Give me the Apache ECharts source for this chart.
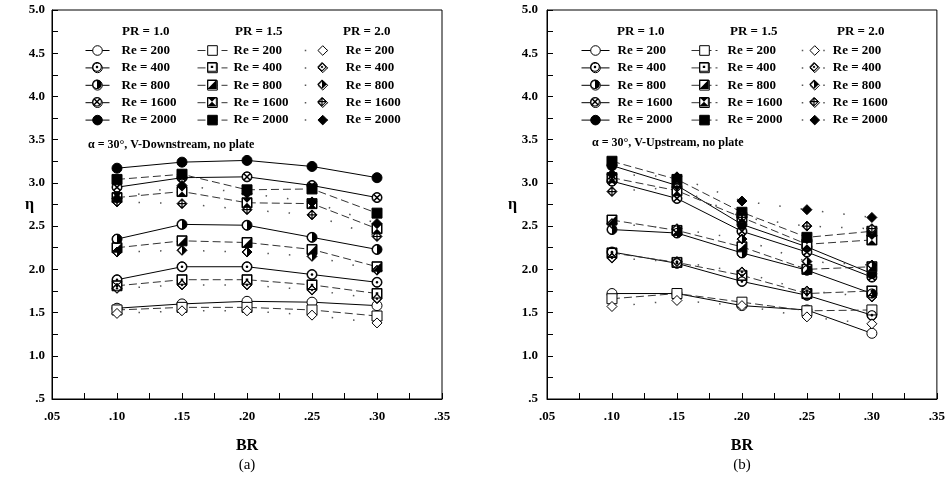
<!DOCTYPE html>
<html>
<head>
<meta charset="utf-8">
<script src="https://cdn.jsdelivr.net/npm/echarts@6/dist/echarts.min.js"></script>
<style>
  html, body { margin: 0; padding: 0; background: #fff; }
  #chart { width: 948px; height: 478px; }
</style>
</head>
<body>
<div id="chart"></div>
<script>
// blockage ratio on x, efficiency index eta on y
const brValues = [0.10, 0.15, 0.20, 0.25, 0.30];
const reList = [200, 400, 800, 1600, 2000];
const prLabels = ['PR = 1.0', 'PR = 1.5', 'PR = 2.0'];
const xTicks = [0.05, 0.35, 0.05];   // min, max, step
const yTicks = [0.5, 5.0, 0.5];

// (a) V-Downstream - rows are Re 200, 400, 800, 1600, 2000
const downPR10 = [
  [1.55, 1.60, 1.63, 1.62, 1.58],
  [1.88, 2.03, 2.03, 1.94, 1.85],
  [2.35, 2.52, 2.51, 2.37, 2.23],
  [2.95, 3.06, 3.07, 2.97, 2.83],
  [3.17, 3.24, 3.26, 3.19, 3.06]
];
const downPR15 = [
  [1.53, 1.56, 1.56, 1.53, 1.46],
  [1.81, 1.88, 1.88, 1.82, 1.72],
  [2.25, 2.33, 2.31, 2.23, 2.03],
  [2.83, 2.90, 2.77, 2.76, 2.47],
  [3.04, 3.10, 2.92, 2.93, 2.65]
];
const downPR20 = [
  [1.49, 1.52, 1.52, 1.47, 1.38],
  [1.78, 1.82, 1.82, 1.76, 1.66],
  [2.20, 2.22, 2.20, 2.15, 1.99],
  [2.78, 2.76, 2.69, 2.63, 2.38],
  [2.82, 2.97, 2.88, 2.78, 2.53]
];

// (b) V-Upstream
const upPR10 = [
  [1.72, 1.72, 1.58, 1.53, 1.26],
  [2.20, 2.07, 1.86, 1.70, 1.47],
  [2.46, 2.42, 2.19, 1.99, 1.72],
  [3.02, 2.82, 2.44, 2.20, 1.91],
  [3.20, 2.97, 2.52, 2.26, 1.95]
];
const upPR15 = [
  [1.66, 1.72, 1.62, 1.52, 1.53],
  [2.19, 2.08, 1.93, 1.72, 1.75],
  [2.57, 2.45, 2.26, 2.00, 2.03],
  [3.06, 2.91, 2.60, 2.29, 2.34],
  [3.25, 3.04, 2.66, 2.37, 2.44]
];
const upPR20 = [
  [1.57, 1.64, 1.58, 1.45, 1.37],
  [2.13, 2.09, 1.97, 1.75, 1.68],
  [2.53, 2.47, 2.35, 2.09, 2.05],
  [2.90, 2.95, 2.60, 2.50, 2.47],
  [3.10, 3.07, 2.79, 2.69, 2.60]
];

const SERIF = '"Liberation Serif", "DejaVu Serif", serif';

// line look per PR group: solid / dashed / sparse dots
const prLine = [
  { type: 'solid', color: '#000', width: 1 },
  { type: [8, 4], color: '#333', width: 1 },
  { type: [1.5, 20], color: '#555', width: 1.5 }
];
const shapes = ['circle', 'rect', 'diamond'];

// marker inner decorations (ring + inner mark), drawn on a 20x20 box
const ringC = 'M10 0 C15.52 0 20 4.48 20 10 C20 15.52 15.52 20 10 20 C4.48 20 0 15.52 0 10 C0 4.48 4.48 0 10 0 Z ' +
  'M10 2 C5.58 2 2 5.58 2 10 C2 14.42 5.58 18 10 18 C14.42 18 18 14.42 18 10 C18 5.58 14.42 2 10 2 Z ';
const ringS = 'M0 0 L20 0 L20 20 L0 20 Z M2 2 L2 18 L18 18 L18 2 Z ';
const ringD = 'M10 0 L20 10 L10 20 L0 10 Z M10 2.8 L2.8 10 L10 17.2 L17.2 10 Z ';
const decoPaths = [
  [
    'path://' + ringC + 'M10 7.4 C11.44 7.4 12.6 8.56 12.6 10 C12.6 11.44 11.44 12.6 10 12.6 C8.56 12.6 7.4 11.44 7.4 10 C7.4 8.56 8.56 7.4 10 7.4 Z',
    'path://' + ringC + 'M10 2 C14.42 2 18 5.58 18 10 C18 14.42 14.42 18 10 18 Z',
    'path://' + ringC + 'M3.2 5.4 L5.4 3.2 L16.8 14.6 L14.6 16.8 Z M14.6 3.2 L16.8 5.4 L5.4 16.8 L3.2 14.6 Z'
  ],
  [
    'path://' + ringS + 'M7.5 7.5 L12.5 7.5 L12.5 12.5 L7.5 12.5 Z',
    'path://' + ringS + 'M2 18 L18 2 L18 18 Z',
    'path://' + ringS + 'M2 2 L18 2 L10 10 Z M10 10 L18 18 L2 18 Z'
  ],
  [
    'path://' + ringD + 'M10 7 L13 10 L10 13 L7 10 Z',
    'path://' + ringD + 'M10 2.8 L17.2 10 L10 17.2 Z',
    'path://' + ringD + 'M2.8 8.8 L17.2 8.8 L17.2 11.2 L2.8 11.2 Z M8.8 2.8 L11.2 2.8 L11.2 17.2 L8.8 17.2 Z'
  ]
];

const panels = [
  {
    key: 'a', data: [downPR10, downPR15, downPR20],
    gridLeft: 52, labelMargin: 7, etaGap: 18,
    legLeft: [85, 197, 304], legWidth: [24, 30, 36], legPad: [7, 1, 0],
    headX: [122, 235, 343],
    note: 'α = 30°, V-Downstream, no plate', noteX: 88, noteY: 139,
    caption: '(a)', capX: 247
  },
  {
    key: 'b', data: [upPR10, upPR15, upPR20],
    gridLeft: 547, labelMargin: 9, etaGap: 30,
    legLeft: [581, 691, 801], legWidth: [28, 26, 26], legPad: [3, 5, 0],
    headX: [617, 730, 837],
    note: 'α = 30°, V-Upstream, no plate', noteX: 592, noteY: 137,
    caption: '(b)', capX: 742
  }
];

const grids = [], xAxes = [], yAxes = [], series = [], legends = [], texts = [];
const tickStyle = { color: '#000', width: 1 };

panels.forEach((p, gi) => {
  grids.push({ left: p.gridLeft, top: 10, width: 390, height: 389, show: true, borderColor: '#000', borderWidth: 1 });
  xAxes.push({
    gridIndex: gi, type: 'value', min: xTicks[0], max: xTicks[1], interval: xTicks[2],
    axisLine: { lineStyle: tickStyle },
    axisTick: { inside: true, length: 6, lineStyle: tickStyle },
    minorTick: { show: true, splitNumber: 2, length: 6, lineStyle: tickStyle },
    splitLine: { show: false },
    axisLabel: {
      margin: 11, color: '#000', fontFamily: SERIF, fontWeight: 'bold', fontSize: 13,
      formatter: v => v.toFixed(2).replace(/^0/, '')
    },
    name: 'BR', nameLocation: 'middle', nameGap: 39, nameMoveOverlap: false,
    nameTextStyle: { color: '#000', fontFamily: SERIF, fontWeight: 'bold', fontSize: 16 }
  });
  yAxes.push({
    gridIndex: gi, type: 'value', min: yTicks[0], max: yTicks[1], interval: yTicks[2],
    axisLine: { show: true, lineStyle: tickStyle },
    axisTick: { show: true, inside: true, length: 6, lineStyle: tickStyle },
    minorTick: { show: true, splitNumber: 2, length: 6, lineStyle: tickStyle },
    splitLine: { show: false },
    axisLabel: {
      margin: p.labelMargin, color: '#000', fontFamily: SERIF, fontWeight: 'bold', fontSize: 13,
      formatter: v => (v < 1 ? v.toFixed(1).replace(/^0/, '') : v.toFixed(1))
    },
    name: 'η', nameLocation: 'middle', nameRotate: 0, nameGap: p.etaGap, nameMoveOverlap: false,
    nameTextStyle: { color: '#000', fontFamily: SERIF, fontWeight: 'bold', fontSize: 16 }
  });

  p.data.forEach((rows, k) => {
    rows.forEach((vals, r) => {
      const pts = brValues.map((x, i) => [x, vals[i]]);
      const name = p.key + '-' + k + '-' + reList[r];
      // plain line, kept under every marker
      series.push({
        type: 'line', xAxisIndex: gi, yAxisIndex: gi, data: pts, symbol: 'none',
        lineStyle: prLine[k], z: 2, silent: true, animation: false
      });
      // base marker (white or filled), carries the legend entry
      series.push({
        name: name, type: 'line', xAxisIndex: gi, yAxisIndex: gi, data: pts,
        symbol: shapes[k], symbolSize: 10,
        lineStyle: Object.assign({}, prLine[k], { opacity: 0 }),
        itemStyle: { color: r === 4 ? '#000' : '#fff', borderColor: '#000', borderWidth: 1 },
        z: 3, silent: true, animation: false
      });
      // inner pattern for Re 400 / 800 / 1600
      if (r >= 1 && r <= 3) {
        series.push({
          name: name + '-d', type: 'line', xAxisIndex: gi, yAxisIndex: gi, data: pts,
          symbol: decoPaths[k][r - 1], symbolSize: 10,
          lineStyle: { width: 0, opacity: 0 },
          itemStyle: { color: '#000', borderWidth: 0 },
          z: 4, silent: true, animation: false
        });
      }
    });

    const legText = {
      fontFamily: SERIF, fontWeight: 'bold', fontSize: 13, color: '#000', lineHeight: 12,
      rich: { s: { width: p.legPad[k], lineHeight: 12 } }
    };
    const fmt = n => '{s|}Re = ' + n.split('-')[2];
    legends.push({
      orient: 'vertical', left: p.legLeft[k], top: 44, padding: 0,
      itemWidth: p.legWidth[k], itemHeight: 12, itemGap: 4.4, selectedMode: false,
      data: reList.map(re => p.key + '-' + k + '-' + re),
      formatter: fmt, textStyle: legText,
      lineStyle: { opacity: 1, width: prLine[k].width },
      itemStyle: { borderWidth: 1 }
    });
    legends.push({
      orient: 'vertical', left: p.legLeft[k], top: 44 + 16.4, padding: 0,
      itemWidth: p.legWidth[k], itemHeight: 12, itemGap: 4.4, selectedMode: false,
      data: [400, 800, 1600].map(re => p.key + '-' + k + '-' + re + '-d'),
      formatter: fmt, textStyle: Object.assign({}, legText, { color: 'rgba(0,0,0,0)' }),
      lineStyle: { opacity: 0, width: 0 },
      itemStyle: { borderWidth: 0 }
    });

    texts.push({
      type: 'text', left: p.headX[k], top: 25,
      style: { text: prLabels[k], fill: '#000', font: 'bold 13px ' + SERIF }
    });
  });

  texts.push({
    type: 'text', left: p.noteX, top: p.noteY,
    style: { text: p.note, fill: '#000', font: 'bold 12px ' + SERIF }
  });
  texts.push({
    type: 'text', x: p.capX, y: 465,
    style: { text: p.caption, fill: '#000', font: '15px ' + SERIF, align: 'center', verticalAlign: 'middle', textAlign: 'center', textVerticalAlign: 'middle' }
  });
});

const chart = echarts.init(document.getElementById('chart'), null, { renderer: 'canvas' });
chart.setOption({
  backgroundColor: '#fff',
  animation: false,
  grid: grids,
  xAxis: xAxes,
  yAxis: yAxes,
  legend: legends,
  graphic: texts,
  series: series
});
</script>
</body>
</html>
